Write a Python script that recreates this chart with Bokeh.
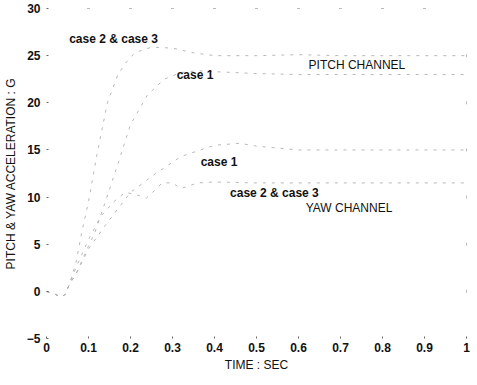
from bokeh.plotting import figure
from bokeh.models import Range1d, FixedTicker, Label
from bokeh.embed import file_html
from bokeh.resources import INLINE

# ---- data (trace is very faded) ----
x_ticks = [0, 0.1, 0.2, 0.3, 0.4, 0.5, 0.6, 0.7, 0.8, 0.9, 1]
x_tick_labels = ["0", "0.1", "0.2", "0.3", "0.4", "0.5", "0.6", "0.7", "0.8", "0.9", "1"]
y_ticks = [-5, 0, 5, 10, 15, 20, 25, 30]

t_pitch23 = [0, 0.02, 0.035, 0.045, 0.055, 0.07, 0.085, 0.1, 0.12, 0.145, 0.17, 0.19, 0.21, 0.25, 0.3, 0.35, 0.4, 0.5, 0.6, 0.7, 0.8, 0.9, 1.0]
g_pitch23 = [0, -0.3, -0.6, -0.3, 0.8, 3.0, 6.5, 9.5, 14.5, 20.0, 23.0, 24.3, 25.3, 25.9, 25.8, 25.3, 25.0, 25.0, 25.1, 25.0, 25.0, 25.0, 25.0]

t_pitch1 = [0, 0.02, 0.035, 0.045, 0.055, 0.07, 0.1, 0.115, 0.14, 0.17, 0.2, 0.24, 0.28, 0.32, 0.36, 0.4, 0.5, 0.6, 0.7, 0.8, 0.9, 1.0]
g_pitch1 = [0, -0.3, -0.6, -0.3, 0.8, 1.8, 4.8, 6.2, 9.5, 13.5, 17.7, 20.8, 22.5, 23.2, 23.4, 23.3, 23.1, 23.0, 23.0, 23.0, 23.0, 23.0]

t_yaw1 = [0, 0.02, 0.035, 0.045, 0.055, 0.07, 0.1, 0.14, 0.2, 0.26, 0.32, 0.4, 0.46, 0.5, 0.6, 0.7, 0.8, 0.9, 1.0]
g_yaw1 = [0, -0.3, -0.6, -0.3, 0.8, 1.8, 4.5, 7.0, 10.5, 12.5, 14.3, 15.5, 15.7, 15.4, 15.0, 15.0, 15.0, 15.0, 15.0]

t_yaw23 = [0, 0.02, 0.035, 0.045, 0.055, 0.07, 0.1, 0.13, 0.16, 0.187, 0.21, 0.238, 0.26, 0.275, 0.3, 0.32, 0.36, 0.4, 0.5, 0.6, 0.7, 0.8, 0.9, 1.0]
g_yaw23 = [0, -0.3, -0.6, -0.3, 0.8, 2.5, 5.5, 8.0, 9.5, 10.5, 10.3, 9.9, 10.8, 11.5, 11.5, 10.9, 11.5, 11.6, 11.5, 11.5, 11.5, 11.5, 11.5, 11.5]

FONT = "Liberation Sans"
INK = "#111111"

p = figure(width=461, height=369, frame_width=420, frame_height=330,
           output_backend="svg", toolbar_location=None,
           x_range=Range1d(0, 1), y_range=Range1d(-5, 30),
           min_border_left=37, min_border_right=4, min_border_top=8, min_border_bottom=31)
p.outline_line_color = None
p.grid.visible = False
p.background_fill_color = "white"

for ax in (p.xaxis[0], p.yaxis[0]):
    ax.axis_line_color = None
    ax.major_tick_in = 2
    ax.major_tick_out = 0
    ax.major_tick_line_color = "#666666"
    ax.minor_tick_line_color = None
    ax.major_label_text_font = FONT
    ax.major_label_text_font_size = "12px"
    ax.major_label_text_color = INK
    ax.major_label_text_font_style = "bold"
    ax.axis_label_text_font = FONT
    ax.axis_label_text_font_style = "normal"
    ax.axis_label_text_color = INK

p.xaxis.ticker = FixedTicker(ticks=x_ticks)
p.xaxis.major_label_overrides = {tv: lab for tv, lab in zip(x_ticks, x_tick_labels)}
p.xaxis.major_label_standoff = 4
p.xaxis.axis_label = "TIME : SEC"
p.xaxis.axis_label_text_font_size = "12px"
p.xaxis.axis_label_standoff = 3
p.yaxis.ticker = FixedTicker(ticks=y_ticks)
p.yaxis.major_label_standoff = 6
p.yaxis.axis_label = "PITCH & YAW ACCELERATION : G"
p.yaxis.axis_label_text_font_size = "12px"
p.yaxis.axis_label_standoff = 6

# faint frame marks on the top and right edges
p.scatter(x_ticks[1:-1], [30] * (len(x_ticks) - 2), marker="dash", size=3, color="#777777")
p.scatter([1] * (len(y_ticks) - 1), y_ticks[:-1], marker="dash", size=3, color="#777777", angle=1.5708)

# faded traces
line_kw = dict(line_color="#b0b0b0", line_width=0.9, line_dash="3 6")
p.line(t_pitch23, g_pitch23, **line_kw)
p.line(t_pitch1, g_pitch1, **line_kw)
p.line(t_yaw1, g_yaw1, **line_kw)
p.line(t_yaw23, g_yaw23, **line_kw)

labels = [
    ("case 2 & case 3", 0.054, 26.8, "12px", "bold"),
    ("case 1", 0.31, 23.0, "12px", "bold"),
    ("PITCH CHANNEL", 0.624, 23.96, "12px", "normal"),
    ("case 1", 0.367, 13.75, "12px", "bold"),
    ("case 2 & case 3", 0.437, 10.4, "12px", "bold"),
    ("YAW CHANNEL", 0.617, 8.85, "12px", "normal"),
]
for txt, lx, ly, fs, fst in labels:
    p.add_layout(Label(x=lx, y=ly, text=txt, text_font=FONT, text_font_size=fs,
                       text_font_style=fst, text_color=INK,
                       text_baseline="middle", text_align="left"))

open("out.html", "w").write(file_html(p, INLINE))
